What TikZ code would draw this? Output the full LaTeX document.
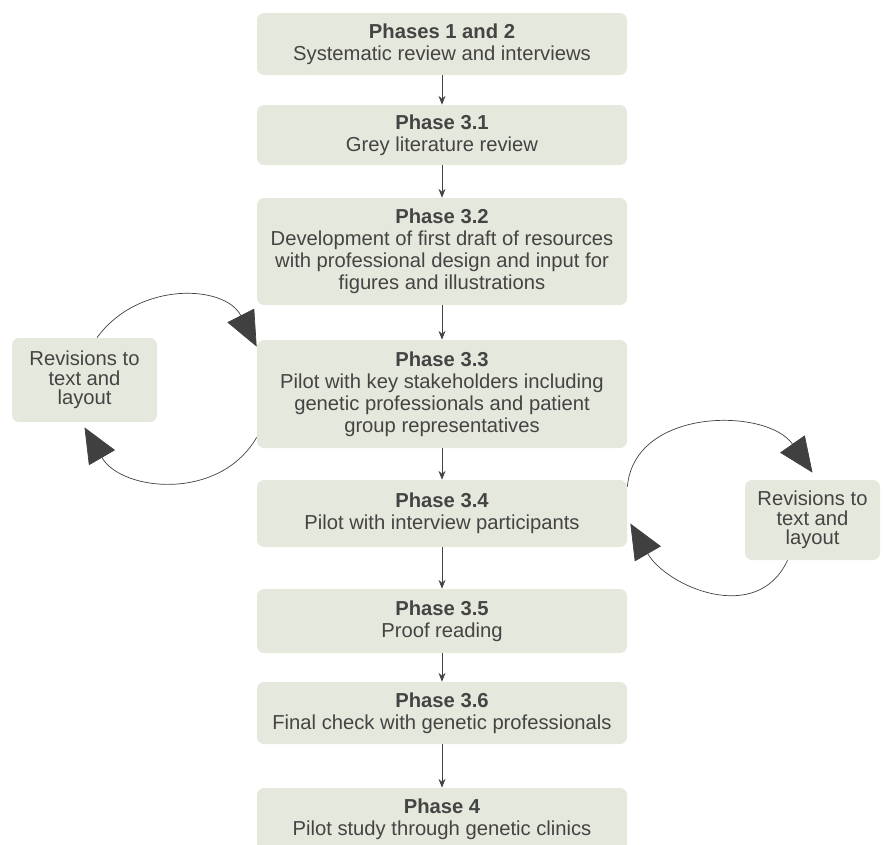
\documentclass[tikz,border=0pt]{standalone}
\usepackage{fontspec}
\setmainfont{Liberation Sans}
\usetikzlibrary{arrows.meta}
\definecolor{boxfill}{HTML}{E5E8DC}
\definecolor{boxtext}{HTML}{444444}
\begin{document}
\begin{tikzpicture}[
        phase/.style={fill=boxfill, rounded corners=4pt, minimum width=7.4cm, align=center,
            text=boxtext, font=\fontsize{11.5}{12.6}\selectfont, inner sep=2pt},
        revbox/.style={fill=boxfill, rounded corners=4pt, align=center,
            text=boxtext, font=\fontsize{11.5}{11.2}\selectfont, inner sep=2pt},
        flow/.style={draw=boxtext, thin, -{Stealth[length=5pt,width=4pt]}},
        loop/.style={draw=black!75, thin, -{Triangle[length=0.7cm,width=0.6cm]}}
    ]
        \useasboundingbox (0,0) rectangle (17.7,-16.88);
        % main phases
        \node[phase, minimum height=1.24cm] (p12) at (8.84,-0.88) {\textbf{Phases 1 and 2}\\Systematic review and interviews};
        \node[phase, minimum height=1.2cm] (p31) at (8.84,-2.7) {\textbf{Phase 3.1}\\Grey literature review};
        \node[phase, minimum height=2.14cm] (p32) at (8.84,-5.03) {\textbf{Phase 3.2}\\Development of first draft of resources\\with professional design and input for\\figures and illustrations};
        \node[phase, minimum height=2.16cm] (p33) at (8.84,-7.88) {\textbf{Phase 3.3}\\Pilot with key stakeholders including\\genetic professionals and patient\\group representatives};
        \node[phase, minimum height=1.34cm] (p34) at (8.84,-10.27) {\textbf{Phase 3.4}\\Pilot with interview participants};
        \node[phase, minimum height=1.28cm] (p35) at (8.84,-12.42) {\textbf{Phase 3.5}\\Proof reading};
        \node[phase, minimum height=1.24cm] (p36) at (8.84,-14.26) {\textbf{Phase 3.6}\\Final check with genetic professionals};
        \node[phase, minimum height=1.24cm] (p4) at (8.84,-16.38) {\textbf{Phase 4}\\Pilot study through genetic clinics};
        % revision boxes
        \node[revbox, minimum width=2.9cm, minimum height=1.68cm] (revl) at (1.69,-7.6) {Revisions to\\text and\\layout};
        \node[revbox, minimum width=2.7cm, minimum height=1.6cm] (revr) at (16.25,-10.4) {Revisions to\\text and\\layout};
        % connectors
        \foreach \a/\b in {p12/p31, p31/p32, p32/p33, p33/p34, p34/p35, p35/p36, p36/p4}
            \draw[flow] (\a.south) -- (\b.north);
        \draw[loop] ([xshift=0.25cm]revl.north) to[out=54, in=117, looseness=1.12] ([yshift=-0.14cm]p33.north west);
        \draw[loop] ([yshift=0.22cm]p33.south west) to[out=-120, in=-60, looseness=1.1] ([xshift=0.0cm,yshift=-0.1cm]revl.south);
        \draw[loop] ([yshift=-0.14cm]p34.north east) to[out=85, in=125, looseness=1.1] ([yshift=0.14cm]revr.north);
        \draw[loop] ([xshift=-0.5cm]revr.south) to[out=-115, in=-60, looseness=1.15] ([xshift=0.06cm,yshift=-0.2cm]p34.east);
    \end{tikzpicture}
\end{document}
